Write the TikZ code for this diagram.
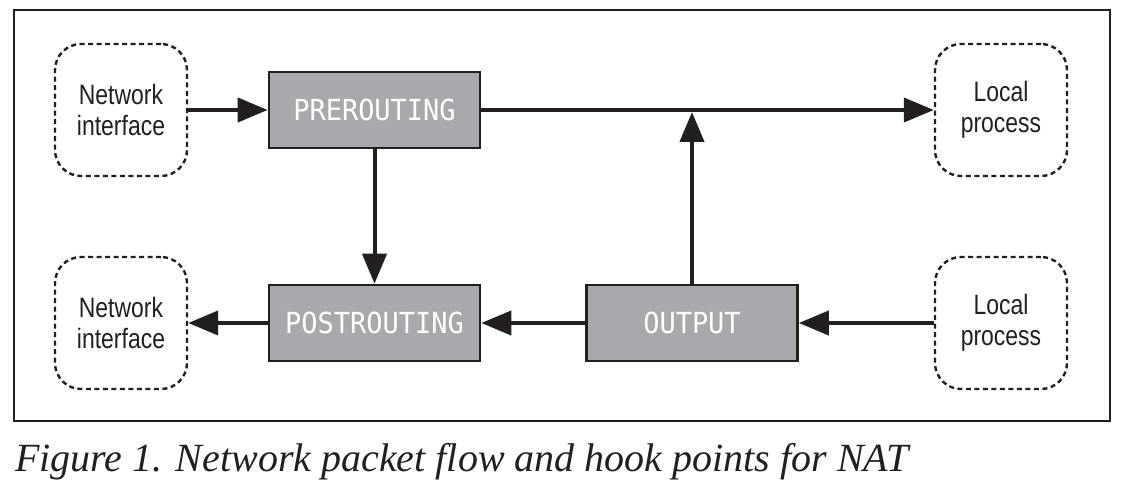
\documentclass[tikz,border=0pt]{standalone}
\usepackage{fontspec}
\usetikzlibrary{arrows.meta}
\newfontfamily\labfont[FakeStretch=0.82]{Liberation Sans}
\newfontfamily\hookfont[FakeStretch=0.93]{DejaVu Sans Mono}
\newfontfamily\capfont{Liberation Serif}
\definecolor{ink}{HTML}{231F20}
\definecolor{hookgray}{HTML}{A7A9AC}
\tikzset{
  endpoint/.style={draw=ink, line width=2.4pt, dash pattern=on 5pt off 3.5pt, rounded corners=26pt,
    minimum width=132pt, minimum height=132pt, inner sep=0pt, align=center,
    font=\labfont\fontsize{28}{31}\selectfont, text=ink},
  hook/.style={draw=ink, line width=2.6pt, fill=hookgray, minimum width=211pt, minimum height=76pt,
    inner sep=0pt, font=\hookfont\fontsize{29}{31}\selectfont, text=white},
  flow/.style={draw=ink, line width=4pt, -{Triangle[length=30pt,width=24pt]}},
  plain/.style={draw=ink, line width=4pt}
}
\begin{document}
\begin{tikzpicture}[x=1pt,y=1pt]
\useasboundingbox (0,0) rectangle (1128,-492);
\fill[white] (0,0) rectangle (1128,-492);
\draw[ink, line width=1.5pt] (14,-10) rectangle (1110,-421);
\node[endpoint] (ni1) at (121,-110) {Network\\interface};
\node[endpoint] (ni2) at (121,-323) {Network\\interface};
\node[endpoint] (lp1) at (1001,-110) {Local\\process};
\node[endpoint] (lp2) at (1001,-323) {Local\\process};
\node[hook] (pre) at (374.5,-110) {PREROUTING};
\node[hook] (post) at (374.5,-323) {POSTROUTING};
\node[hook] (out) at (692,-323) {OUTPUT};
\coordinate (j) at (692,-112);
\draw[flow] (ni1.east) -- (pre.west);
\draw[flow] (pre.east) -- (lp1.west);
\draw[flow] (pre.south) -- (post.north);
\draw[flow] (out.north) -- (j);
\draw[flow] (out.west) -- (post.east);
\draw[flow] (lp2.west) -- (out.east);
\draw[flow] (post.west) -- (ni2.east);
\node[anchor=base west, inner sep=0pt, font=\capfont\itshape\fontsize{40}{44}\selectfont, text=ink] (cap) at (15,-471) {Figure 1. Network packet flow and hook points for NAT};
\end{tikzpicture}
\end{document}
